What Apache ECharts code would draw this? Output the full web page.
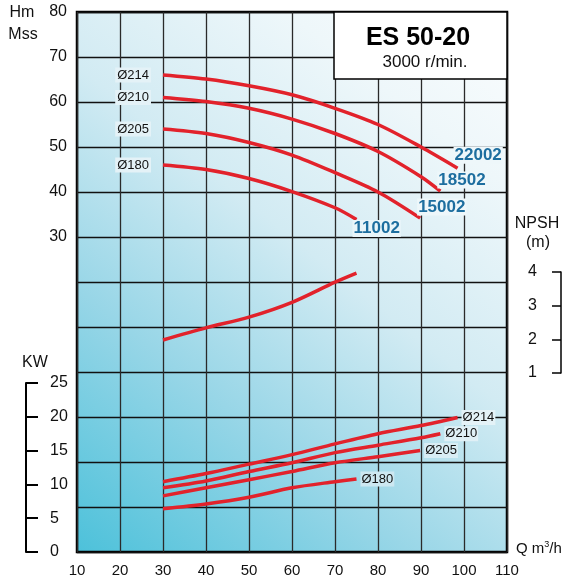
<!DOCTYPE html>
<html><head><meta charset="utf-8">
<script src="https://cdn.jsdelivr.net/npm/echarts@6/dist/echarts.min.js"></script>
<style>html,body{margin:0;padding:0;background:#fff}#c{width:563px;height:582px}</style>
</head><body><div id="c"></div>
<script>
// ---- data ----
const qTicks = [10,20,30,40,50,60,70,80,90,100,110];
const hmLabels = [30,40,50,60,70,80];
const kwLabels = [0,5,10,15,20,25];
const npshLabels = [1,2,3,4];

const q214 = [30, 40, 50, 60, 70, 80, 90, 98.5];
const h214 = [66.0, 65.1, 63.6, 61.6, 58.6, 55.0, 50.0, 45.3];
const q210 = [30, 40, 50, 60, 70, 80, 90, 94.5];
const h210 = [61.0, 60.1, 58.6, 56.2, 53.0, 49.0, 43.4, 40.2];
const q205 = [30, 40, 50, 60, 70, 80, 89.8];
const h205 = [54.0, 53.0, 51.0, 48.2, 44.3, 40.0, 34.2];
const q180 = [30, 40, 50, 60, 70, 75];
const h180 = [46.0, 45.0, 43.0, 40.1, 36.5, 33.9];

const kq214 = [30, 40, 50, 60, 70, 80, 90, 98.5];
const kw214 = [10.4, 11.6, 13.0, 14.4, 16.0, 17.5, 18.7, 19.9];
const kq210 = [30, 40, 50, 60, 70, 80, 90, 94.5];
const kw210 = [9.5, 10.5, 11.9, 13.2, 14.7, 15.8, 16.9, 17.5];
const kq205 = [30, 40, 50, 60, 70, 80, 89.8];
const kw205 = [8.3, 9.5, 10.7, 11.9, 13.2, 14.1, 15.0];
const kq180 = [30, 40, 50, 60, 70, 75];
const kw180 = [6.4, 7.1, 8.1, 9.5, 10.4, 10.8];

const nq = [30, 40, 50, 60, 70, 75];
const npsh = [1.98, 2.34, 2.66, 3.1, 3.7, 3.97];

const impellers = ['Ø214', 'Ø210', 'Ø205', 'Ø180'];
const models = ['22002', '18502', '15002', '11002'];

// ---- layout ----
const W = 563, H = 582;
const PL = 77, PR = 507, PT = 12, PB = 552;
const KW_TOP = 383;
const NP_TOP = 272, NP_BOT = 373;
const FONT = "'Liberation Sans',Arial,sans-serif";
const RED = '#e2222b';
const BLUE = '#1d6e9f';

const plotH = PB - PT;
const kwMax = 25 * plotH / (PB - KW_TOP);
const npPer = (NP_BOT - NP_TOP) / 3;
const npMin = 1 - (PB - NP_BOT) / npPer;
const npMax = 4 + (NP_TOP - PT) / npPer;

function pairs(xs, ys) { return xs.map((x, i) => [x, ys[i]]); }

const headSets = [[q214,h214],[q210,h210],[q205,h205],[q180,h180]];
const kwSets = [[kq214,kw214],[kq210,kw210],[kq205,kw205],[kq180,kw180]];
const modelOffsets = [[-4,-13],[-3,-11],[-3,-11],[-4,9]];
const maskBg = ['#eef7fa','#eef7fa','#eef7fa','#e9f5f9'];

const series = [];
headSets.forEach((s, i) => {
  const d = pairs(s[0], s[1]).map(v => ({value: v}));
  d[0].label = {show: true, position: 'left', distance: 12, formatter: impellers[i],
    fontFamily: FONT, fontSize: 13, color: '#111', backgroundColor: '#e4f2f7', padding: [1,2]};
  d[d.length-1].label = {show: true, position: 'right', distance: 0, offset: modelOffsets[i],
    formatter: models[i], fontFamily: FONT, fontWeight: 'bold',
    fontSize: 17, color: BLUE, backgroundColor: maskBg[i], padding: [0,1]};
  series.push({type: 'line', xAxisIndex: 0, yAxisIndex: 0, data: d, smooth: 0.3,
    symbol: 'circle', symbolSize: 0, showSymbol: true, silent: true,
    lineStyle: {color: RED, width: 3.5}, itemStyle: {color: RED}, label: {show: false}, z: 5});
});
const kwBg = ['#e4f2f7','#e0f0f6','#d8edf4','#cde8f1'];
kwSets.forEach((s, i) => {
  const d = pairs(s[0], s[1]).map(v => ({value: v}));
  d[d.length-1].label = {show: true, position: 'right', distance: 4, formatter: impellers[i],
    fontFamily: FONT, fontSize: 13, color: '#111', backgroundColor: kwBg[i], padding: [1,1]};
  series.push({type: 'line', xAxisIndex: 0, yAxisIndex: 1, data: d, smooth: 0.3,
    symbol: 'circle', symbolSize: 0, showSymbol: true, silent: true,
    lineStyle: {color: RED, width: 3.5}, itemStyle: {color: RED}, label: {show: false}, z: 5});
});
series.push({type: 'line', xAxisIndex: 0, yAxisIndex: 2, data: pairs(nq, npsh), smooth: 0.3,
  showSymbol: false, silent: true, lineStyle: {color: RED, width: 3.5}, z: 5});

const txt = (x, y, t, extra) => Object.assign({type: 'text', x, y, z: 20,
  style: Object.assign({text: t, fontFamily: FONT, fontSize: 15, fill: '#111',
    textAlign: 'center', textVerticalAlign: 'middle'}, extra || {})});

const chart = echarts.init(document.getElementById('c'), null, {renderer: 'canvas'});
chart.setOption({
  animation: false,
  backgroundColor: '#fff',
  grid: [
    {left: PL, right: W - PR, top: PT, bottom: H - PB, show: true, borderColor: '#000', borderWidth: 2.5,
      outerBoundsMode: 'none', containLabel: false,
      backgroundColor: new echarts.graphic.LinearGradient(0, 1, 1, 0, [
        {offset: 0, color: '#4cc1da'}, {offset: 0.3, color: '#98d6e7'},
        {offset: 0.55, color: '#d2ebf3'}, {offset: 0.8, color: '#eef7fa'}, {offset: 1, color: '#fbfdfe'}])},
    {left: 26, width: 20, top: KW_TOP, bottom: H - PB, outerBoundsMode: 'none', containLabel: false},
    {left: 541, width: 20, top: NP_TOP, bottom: H - NP_BOT, outerBoundsMode: 'none', containLabel: false}
  ],
  xAxis: [
    {gridIndex: 0, type: 'value', min: qTicks[0], max: qTicks[qTicks.length-1], interval: 10,
      axisLine: {show: false}, axisTick: {show: false},
      axisLabel: {margin: 11, fontFamily: FONT, fontSize: 15, color: '#111',
        showMinLabel: true, showMaxLabel: true, formatter: v => qTicks.includes(v) ? String(v) : ''},
      splitLine: {show: true, lineStyle: {color: '#2a2a2a', width: 1.3}}},
    {gridIndex: 1, type: 'value', min: 0, max: 1, show: false},
    {gridIndex: 2, type: 'value', min: 0, max: 1, show: false}
  ],
  yAxis: [
    {gridIndex: 0, type: 'value', min: -40, max: 80, interval: 10,
      axisLine: {show: false, onZero: false}, axisTick: {show: false},
      axisLabel: {margin: 10, fontFamily: FONT, fontSize: 16, color: '#111',
        formatter: v => hmLabels.includes(v) ? String(v) : ''},
      splitLine: {show: true, lineStyle: {color: '#111', width: 1.3}}},
    {gridIndex: 0, type: 'value', min: 0, max: kwMax, show: false},
    {gridIndex: 0, type: 'value', min: npMin, max: npMax, show: false},
    {gridIndex: 1, type: 'value', min: 0, max: 25, interval: 5, position: 'left',
      axisLine: {show: true, onZero: false, lineStyle: {color: '#000', width: 2}},
      axisTick: {show: true, inside: true, length: 12, lineStyle: {color: '#000', width: 2}},
      axisLabel: {inside: true, margin: 24, fontFamily: FONT, fontSize: 16, color: '#111',
        formatter: v => kwLabels.includes(v) ? String(v) : ''},
      splitLine: {show: false}},
    {gridIndex: 2, type: 'value', min: 1, max: 4, interval: 1, position: 'right',
      axisLine: {show: true, onZero: false, lineStyle: {color: '#000', width: 1.5}},
      axisTick: {show: true, inside: true, length: 9, lineStyle: {color: '#000', width: 1.5}},
      axisLabel: {inside: true, margin: 24, fontFamily: FONT, fontSize: 16, color: '#111',
        formatter: v => npshLabels.includes(v) ? String(v) : ''},
      splitLine: {show: false}}
  ],
  graphic: [
    {type: 'rect', z: 15, shape: {x: 334, y: PT, width: PR - 334, height: 79 - PT},
      style: {fill: '#fff', stroke: '#000', lineWidth: 1.5}},
    txt(418, 38, 'ES 50-20', {fontWeight: 'bold', fontSize: 25, fill: '#000'}),
    txt(425, 62, '3000 r/min.', {fontSize: 17}),
    txt(22, 13, 'Hm', {fontSize: 16}),
    txt(23, 35, 'Mss', {fontSize: 16}),
    txt(35, 363, 'KW', {fontSize: 16}),
    txt(537, 224, 'NPSH', {fontSize: 16}),
    txt(538, 243, '(m)', {fontSize: 16}),
    {type: 'text', x: 516, y: 549, z: 20, style: {
      text: '{a|Q m}{s|3}{a|/h}', textVerticalAlign: 'middle',
      rich: {a: {fontFamily: FONT, fontSize: 15, fill: '#111'},
             s: {fontFamily: FONT, fontSize: 9, fill: '#111', verticalAlign: 'top', padding: [0,0,8,0]}}}}
  ],
  series: series
});
</script></body></html>
